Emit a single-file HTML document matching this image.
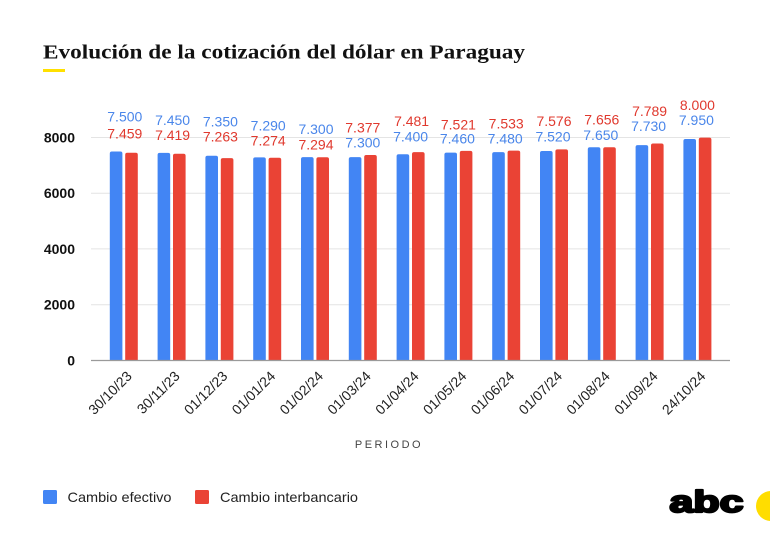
<!DOCTYPE html>
<html>
<head>
<meta charset="utf-8">
<style>
html,body{margin:0;padding:0;background:#fff;}
svg{display:block;}
</style>
</head>
<body>
<svg width="770" height="537" viewBox="0 0 770 537" xmlns="http://www.w3.org/2000/svg">
<defs>
<clipPath id="pc"><rect x="0" y="0" width="770" height="360.5"/></clipPath>
</defs>
<rect width="770" height="537" fill="#fff"/>
<!-- Title -->
<text x="43" y="58.5" font-family="'Liberation Serif', serif" font-weight="bold" font-size="20.5" fill="#111" textLength="482" lengthAdjust="spacingAndGlyphs">Evolución de la cotización del dólar en Paraguay</text>
<rect x="43" y="69" width="22" height="3" fill="#FFE000"/>

<!-- gridlines -->
<g stroke="#e4e4e4" stroke-width="1">
<line x1="91" y1="137.5" x2="730" y2="137.5"/>
<line x1="91" y1="193.2" x2="730" y2="193.2"/>
<line x1="91" y1="248.9" x2="730" y2="248.9"/>
<line x1="91" y1="304.7" x2="730" y2="304.7"/>
</g>

<!-- y labels -->
<g font-family="'Liberation Sans', sans-serif" font-weight="bold" font-size="14" fill="#111" text-anchor="end">
<text x="75" y="142.5">8000</text>
<text x="75" y="198.2">6000</text>
<text x="75" y="253.9">4000</text>
<text x="75" y="309.7">2000</text>
<text x="75" y="365.5">0</text>
</g>

<!-- bars -->
<g clip-path="url(#pc)">
<g fill="#4285F4">
<rect x="109.8" y="151.5" width="12.6" height="215" rx="2"/>
<rect x="157.6" y="152.9" width="12.6" height="215" rx="2"/>
<rect x="205.4" y="155.7" width="12.6" height="215" rx="2"/>
<rect x="253.2" y="157.4" width="12.6" height="215" rx="2"/>
<rect x="301.0" y="157.1" width="12.6" height="215" rx="2"/>
<rect x="348.8" y="157.1" width="12.6" height="215" rx="2"/>
<rect x="396.6" y="154.3" width="12.6" height="215" rx="2"/>
<rect x="444.4" y="152.6" width="12.6" height="215" rx="2"/>
<rect x="492.2" y="152.1" width="12.6" height="215" rx="2"/>
<rect x="540.0" y="151.0" width="12.6" height="215" rx="2"/>
<rect x="587.8" y="147.3" width="12.6" height="215" rx="2"/>
<rect x="635.6" y="145.1" width="12.6" height="220" rx="2"/>
<rect x="683.4" y="139.0" width="12.6" height="225" rx="2"/>
</g>
<g fill="#EA4335">
<rect x="125.2" y="152.7" width="12.6" height="215" rx="2"/>
<rect x="173.0" y="153.8" width="12.6" height="215" rx="2"/>
<rect x="220.8" y="158.1" width="12.6" height="215" rx="2"/>
<rect x="268.6" y="157.8" width="12.6" height="215" rx="2"/>
<rect x="316.4" y="157.3" width="12.6" height="215" rx="2"/>
<rect x="364.2" y="155.0" width="12.6" height="215" rx="2"/>
<rect x="412.0" y="152.1" width="12.6" height="215" rx="2"/>
<rect x="459.8" y="150.9" width="12.6" height="215" rx="2"/>
<rect x="507.6" y="150.6" width="12.6" height="215" rx="2"/>
<rect x="555.4" y="149.4" width="12.6" height="215" rx="2"/>
<rect x="603.2" y="147.2" width="12.6" height="215" rx="2"/>
<rect x="651.0" y="143.5" width="12.6" height="220" rx="2"/>
<rect x="698.8" y="137.6" width="12.6" height="225" rx="2"/>
</g>
</g>

<!-- axis line -->
<line x1="91" y1="360.5" x2="730" y2="360.5" stroke="#9a9a9a" stroke-width="1.2"/>

<!-- value labels -->
<g font-family="'Liberation Sans', sans-serif" font-size="14" text-anchor="middle">
<g fill="#4a86ea">
<text x="124.8" y="121.7">7.500</text>
<text x="172.6" y="125">7.450</text>
<text x="220.4" y="126.7">7.350</text>
<text x="268.2" y="130.7">7.290</text>
<text x="316.0" y="134">7.300</text>
<text x="362.8" y="147.3">7.300</text>
<text x="410.6" y="141.7">7.400</text>
<text x="457.4" y="143.3">7.460</text>
<text x="505.2" y="143.3">7.480</text>
<text x="553.0" y="141.7">7.520</text>
<text x="600.8" y="140">7.650</text>
<text x="648.6" y="131">7.730</text>
<text x="696.4" y="125">7.950</text>
</g>
<g fill="#e0392e">
<text x="124.8" y="138.3">7.459</text>
<text x="172.6" y="140">7.419</text>
<text x="220.4" y="141.7">7.263</text>
<text x="268.2" y="145.7">7.274</text>
<text x="316.0" y="149.3">7.294</text>
<text x="362.8" y="132.7">7.377</text>
<text x="411.6" y="126">7.481</text>
<text x="458.4" y="129.3">7.521</text>
<text x="506.2" y="128.3">7.533</text>
<text x="554.0" y="126">7.576</text>
<text x="601.8" y="124.3">7.656</text>
<text x="649.6" y="116">7.789</text>
<text x="697.4" y="110">8.000</text>
</g>
</g>

<!-- x labels -->
<g font-family="'Liberation Sans', sans-serif" font-size="14" fill="#222" text-anchor="end">
<text transform="translate(132.8,377) rotate(-45)">30/10/23</text>
<text transform="translate(180.6,377) rotate(-45)">30/11/23</text>
<text transform="translate(228.4,377) rotate(-45)">01/12/23</text>
<text transform="translate(276.2,377) rotate(-45)">01/01/24</text>
<text transform="translate(324.0,377) rotate(-45)">01/02/24</text>
<text transform="translate(371.8,377) rotate(-45)">01/03/24</text>
<text transform="translate(419.6,377) rotate(-45)">01/04/24</text>
<text transform="translate(467.4,377) rotate(-45)">01/05/24</text>
<text transform="translate(515.2,377) rotate(-45)">01/06/24</text>
<text transform="translate(563.0,377) rotate(-45)">01/07/24</text>
<text transform="translate(610.8,377) rotate(-45)">01/08/24</text>
<text transform="translate(658.6,377) rotate(-45)">01/09/24</text>
<text transform="translate(706.4,377) rotate(-45)">24/10/24</text>
</g>

<!-- axis title -->
<text x="389" y="448" font-family="'Liberation Sans', sans-serif" font-size="11" fill="#444" text-anchor="middle" letter-spacing="2.5">PERIODO</text>

<!-- legend -->
<rect x="43" y="490" width="14" height="14" rx="1.5" fill="#4285F4"/>
<text x="67.5" y="502" font-family="'Liberation Sans', sans-serif" font-size="14" fill="#222" textLength="104" lengthAdjust="spacingAndGlyphs">Cambio efectivo</text>
<rect x="195" y="490" width="14" height="14" rx="1.5" fill="#EA4335"/>
<text x="220" y="502" font-family="'Liberation Sans', sans-serif" font-size="14" fill="#222" textLength="138" lengthAdjust="spacingAndGlyphs">Cambio interbancario</text>

<!-- logo -->
<text x="669.5" y="512" font-family="'Liberation Sans', sans-serif" font-weight="bold" font-size="31" fill="#000" stroke="#000" stroke-width="2.2" stroke-linejoin="round" textLength="74" lengthAdjust="spacingAndGlyphs">abc</text>
<circle cx="771" cy="506" r="15" fill="#FFDD00"/>
</svg>
</body>
</html>
